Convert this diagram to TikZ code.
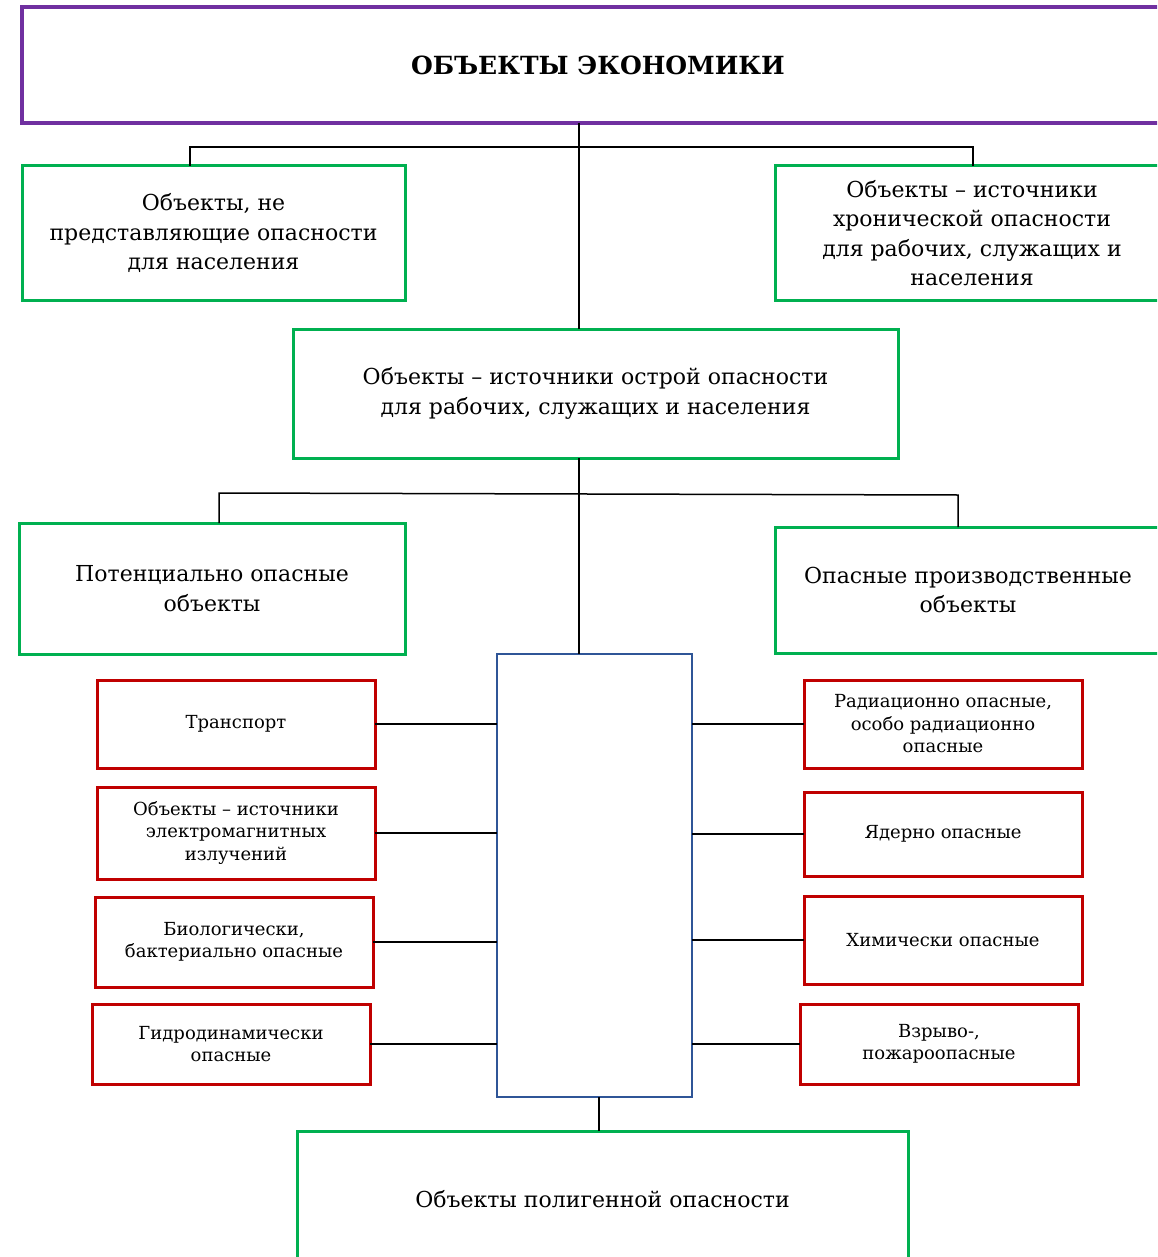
\documentclass[tikz,border=0pt]{standalone}
\usepackage{fontspec}
\setmainfont{DejaVu Serif}
\definecolor{cpurple}{HTML}{7030A0}
\definecolor{cgreen}{HTML}{00B050}
\definecolor{cred}{HTML}{C00000}
\definecolor{cblue}{HTML}{2F5597}
\tikzset{
  anybox/.style={rectangle, inner sep=0pt, outer sep=0pt, align=center, fill=white},
  topbox/.style={anybox, draw=cpurple, line width=4pt, font=\fontsize{25}{32}\selectfont\bfseries},
  gbox/.style={anybox, draw=cgreen, line width=3pt, font=\fontsize{22}{29.5}\selectfont},
  rbox/.style={anybox, draw=cred, line width=3pt, font=\fontsize{18}{22.5}\selectfont},
  bbox/.style={anybox, draw=cblue, line width=1.5pt},
  conn/.style={draw=black, line width=1.5pt}
}
\begin{document}
\begin{tikzpicture}[x=1pt,y=-1pt]
\clip (0,0) rectangle (1157,1257);
\fill[white] (0,0) rectangle (1157,1257);

% top
\node[topbox, minimum width=1152pt, minimum height=116pt] (top) at (598,65) {ОБЪЕКТЫ ЭКОНОМИКИ};

% first level
\node[gbox, minimum width=383pt, minimum height=134pt] (n1) at (213.5,233) {Объекты, не\\ представляющие опасности\\ для населения};
\node[gbox, minimum width=394pt, minimum height=134pt] (n2) at (972,233) {Объекты – источники\\ хронической опасности\\ для рабочих, служащих и\\ населения};
\node[gbox, minimum width=605pt, minimum height=129pt] (mid) at (595.5,393.5) {Объекты – источники острой опасности\\ для рабочих, служащих и населения};

% second level
\node[gbox, minimum width=386pt, minimum height=131pt] (n3) at (212,588.5) {Потенциально опасные\\ объекты};
\node[gbox, minimum width=386pt, minimum height=126pt] (n4) at (968,590) {Опасные производственные\\ объекты};

% central blue box
\node[bbox, minimum width=195pt, minimum height=443pt] (blue) at (594.5,875.5) {};

% left red boxes
\node[rbox, minimum width=278pt, minimum height=88pt] (l1) at (236,724) {Транспорт};
\node[rbox, minimum width=278pt, minimum height=92pt] (l2) at (236,833) {Объекты – источники\\ электромагнитных\\ излучений};
\node[rbox, minimum width=278pt, minimum height=90pt] (l3) at (234,942) {Биологически,\\ бактериально опасные};
\node[rbox, minimum width=278pt, minimum height=80pt] (l4) at (231,1044) {Гидродинамически\\ опасные};

% right red boxes
\node[rbox, minimum width=278pt, minimum height=88pt] (r1) at (943,724) {Радиационно опасные,\\ особо радиационно\\ опасные};
\node[rbox, minimum width=278pt, minimum height=84pt] (r2) at (943,834) {Ядерно опасные};
\node[rbox, minimum width=278pt, minimum height=88pt] (r3) at (943,940) {Химически опасные};
\node[rbox, minimum width=278pt, minimum height=80pt] (r4) at (939,1044) {Взрыво-,\\ пожароопасные};

% bottom
\node[gbox, minimum width=611pt, minimum height=136pt] (bot) at (602.5,1199) {Объекты полигенной опасности};

% connectors, first level
\coordinate (hA) at (190,147);
\coordinate (hB) at (973,147);
\coordinate (hC) at (579,147);
\draw[conn] (top.south -| hC) -- (mid.north -| hC);
\draw[conn] (n1.north -| hA) -- (hA) -- (hB) -- (n2.north -| hB);

% connectors, second level
\coordinate (kA) at (219,493);
\coordinate (kB) at (958,495);
\coordinate (kC) at (579,493);
\draw[conn] (mid.south -| kC) -- (blue.north -| kC);
\draw[conn] (n3.north -| kA) -- (kA) -- (kB) -- (n4.north -| kB);

% red boxes to blue box
\draw[conn] (l1.east) -- (l1.east -| blue.west);
\draw[conn] (l2.east) -- (l2.east -| blue.west);
\draw[conn] (l3.east) -- (l3.east -| blue.west);
\draw[conn] (l4.east) -- (l4.east -| blue.west);
\draw[conn] (blue.east |- r1.west) -- (r1.west);
\draw[conn] (blue.east |- r2.west) -- (r2.west);
\draw[conn] (blue.east |- r3.west) -- (r3.west);
\draw[conn] (blue.east |- r4.west) -- (r4.west);

% bottom connector
\coordinate (bC) at (599,1110);
\draw[conn] (blue.south -| bC) -- (bot.north -| bC);
\end{tikzpicture}
\end{document}
